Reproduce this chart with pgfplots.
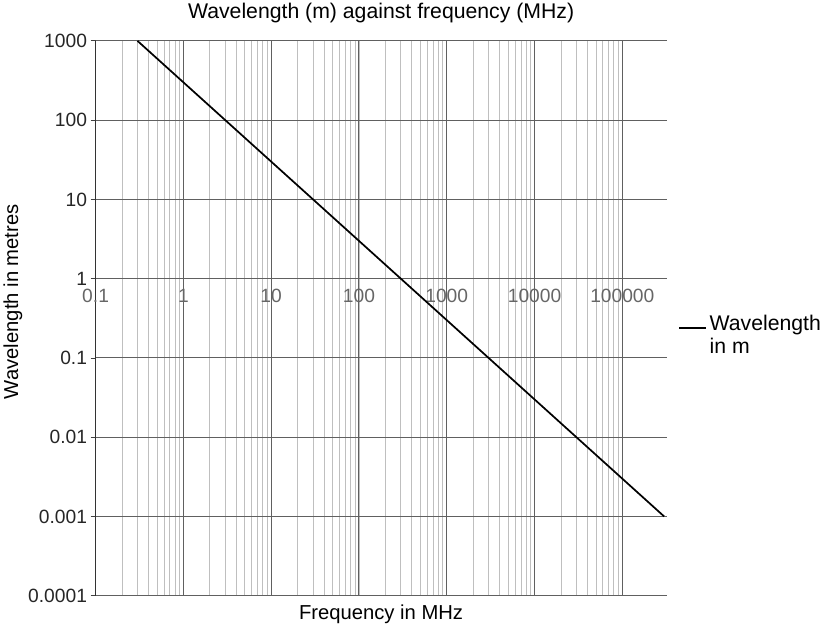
\documentclass[border=0pt]{standalone}
\usepackage{pgfplots}
\pgfplotsset{compat=1.18}
\usepackage{fontspec}
\setmainfont{Liberation Sans}
\begin{document}
\begin{tikzpicture}[font=\fontsize{20}{23}\selectfont]
\begin{axis}[
  scale only axis,
  width=565pt, height=549pt,
  xmode=log, ymode=log,
  xmin=0.1, xmax=320000,
  ymin=0.0001, ymax=1000,
  axis x line=middle,
  axis y line=left,
  axis line style={-},
  hide obscured x ticks=false,
  hide obscured y ticks=false,
  x axis line style={gray!75!black, line width=0.9pt},
  y axis line style={gray!40!black, line width=1pt},
  xtick={0.1,1,10,100,1000,10000,100000},
  xticklabels={0.1,1,10,100,1000,10000,100000},
  ytick={0.0001,0.001,0.01,0.1,1,10,100,1000},
  yticklabels={0.0001,0.001,0.01,0.1,1,10,100,1000},
  xtick style={draw=none},
  ytick style={gray!50!black, line width=0.8pt},
  tick align=outside,
  major tick length=5pt,
  yminorticks=false,
  xminorgrids=true,
  xmajorgrids=true,
  ymajorgrids=true,
  major grid style={gray!75!black, line width=0.9pt},
  minor grid style={gray!50, line width=0.7pt},
  tick label style={font=\fontsize{19}{22}\selectfont, text=black!85},
  xticklabel style={yshift=-2pt, text=black!60},
  label style={font=\fontsize{20}{23}\selectfont},
  title style={font=\fontsize{21}{24}\selectfont, anchor=south, yshift=8pt},
  title={Wavelength (m) against frequency (MHz)},
  xlabel={Frequency in MHz},
  ylabel={Wavelength in metres},
  xlabel style={at={(axis description cs:0.5,0)}, anchor=north, yshift=-5pt},
  ylabel style={at={(axis description cs:-0.145,0.53)}, anchor=center},
  legend style={at={(axis description cs:1.014,0.47)}, anchor=west, draw=none, fill=none,
    cells={align=left}, font=\fontsize{21}{22}\selectfont},
  legend cell align=left,
  legend image code/.code={\draw[black, line width=2.4pt] (0cm,0.25cm) -- (0.95cm,0.25cm);},
]
\addplot[black, line width=1.7pt] coordinates {(0.3,1000) (300000,0.001)};
\addlegendentry{Wavelength\\in m}
\end{axis}
\end{tikzpicture}
\end{document}
